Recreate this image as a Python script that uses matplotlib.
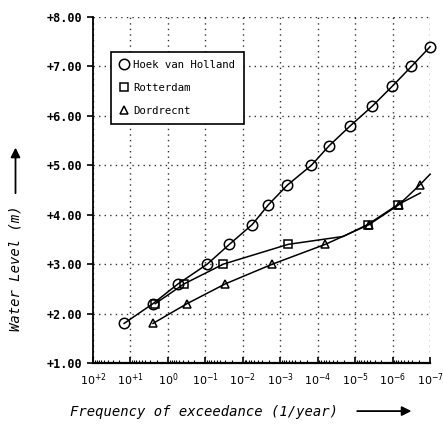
import matplotlib
matplotlib.use('Agg')
import matplotlib.pyplot as plt
from matplotlib.ticker import LogLocator, NullFormatter

plt.rcParams['font.family'] = ['DejaVu Sans Mono']

# dados (log10 da frequência, nível em m)
hoek_logf = [1.17, 0.40, -0.27, -1.05, -1.64, -2.25, -2.68, -3.19, -3.83, -4.31, -4.87, -5.46, -5.99, -6.50, -7.0]
hoek_nivel = [1.8, 2.2, 2.6, 3.0, 3.4, 3.8, 4.2, 4.6, 5.0, 5.4, 5.8, 6.2, 6.6, 7.0, 7.4]

rott_logf = [0.34, -0.43, -1.48, -3.21, -4.68, -5.33, -6.13, -6.74]
rott_nivel = [2.2, 2.6, 3.0, 3.4, 3.56, 3.8, 4.2, 4.44]
rott_marcas = [0, 1, 2, 3, 5, 6]

dord_logf = [0.40, -0.51, -1.53, -2.79, -4.20, -5.37, -6.16, -6.72, -7.0]
dord_nivel = [1.8, 2.2, 2.6, 3.0, 3.4, 3.8, 4.2, 4.6, 4.82]
dord_marcas = [0, 1, 2, 3, 4, 5, 6, 7]

expoentes = [2, 1, 0, -1, -2, -3, -4, -5, -6, -7]
rotulos_x = [r'$10^{+2}$', r'$10^{+1}$', r'$10^{0}$'] + [r'$10^{%d}$' % e for e in expoentes[3:]]
niveis_y = [1, 2, 3, 4, 5, 6, 7, 8]
rotulos_y = ['+%.2f' % v for v in niveis_y]

fig = plt.figure(figsize=(4.43, 4.26), dpi=100)
ax = fig.add_axes([0.21, 0.148, 0.761, 0.812])

ax.plot([10 ** v for v in hoek_logf], hoek_nivel, color='black', linewidth=1.1,
        marker='o', markersize=7.5, mfc='none', mec='black', mew=1.1,
        label='Hoek van Holland', clip_on=False)
ax.plot([10 ** v for v in rott_logf], rott_nivel, color='black', linewidth=1.1,
        marker='s', markersize=6, mfc='none', mec='black', mew=1.1,
        markevery=rott_marcas, label='Rotterdam', clip_on=False)
ax.plot([10 ** v for v in dord_logf], dord_nivel, color='black', linewidth=1.1,
        marker='^', markersize=6, mfc='none', mec='black', mew=1.1,
        markevery=dord_marcas, label='Dordrecnt', clip_on=False)

ax.set_xscale('log')
ax.set_xlim(1e2, 1e-7)
ax.set_ylim(1, 8)
ax.set_xticks([10.0 ** e for e in expoentes])
ax.set_xticklabels(rotulos_x, fontsize=8)
ax.xaxis.set_minor_locator(LogLocator(base=10, subs=range(2, 10), numticks=20))
ax.xaxis.set_minor_formatter(NullFormatter())
ax.set_yticks(niveis_y)
ax.set_yticklabels(rotulos_y, fontsize=8.5, fontweight='bold')

ax.tick_params(axis='x', which='major', direction='in', length=4, width=1.2, pad=6)
ax.tick_params(axis='x', which='minor', direction='in', length=2.5, width=0.8)
ax.tick_params(axis='y', direction='out', length=4, width=1.2)

ax.grid(True, which='major', linestyle=(0, (1, 3)), color='black', linewidth=1.0, alpha=0.8)
ax.spines['top'].set_visible(False)
ax.spines['right'].set_visible(False)
ax.spines['left'].set_linewidth(1.3)
ax.spines['bottom'].set_linewidth(1.6)

leg = ax.legend(loc='upper left', bbox_to_anchor=(0.053, 0.90), handlelength=0.8,
                handletextpad=0.5, fontsize=7.7, frameon=True, fancybox=False,
                borderpad=0.8, labelspacing=1.2, borderaxespad=0)
for linha in leg.get_lines():
    linha.set_linestyle('none')
leg.get_frame().set_edgecolor('black')
leg.get_frame().set_linewidth(1.2)
leg.get_frame().set_alpha(1)

# rótulos dos eixos com setas
fig.text(0.46, 0.033, 'Frequency of exceedance (1/year)', style='italic',
         fontsize=10, ha='center', va='center')
fig.add_artist(matplotlib.patches.FancyArrowPatch((0.80, 0.035), (0.935, 0.035),
               transform=fig.transFigure, arrowstyle='-|>', mutation_scale=14,
               color='black', linewidth=1.3))
fig.text(0.035, 0.37, 'Water Level (m)', style='italic', rotation=90,
         fontsize=10, ha='center', va='center')
fig.add_artist(matplotlib.patches.FancyArrowPatch((0.035, 0.54), (0.035, 0.66),
               transform=fig.transFigure, arrowstyle='-|>', mutation_scale=14,
               color='black', linewidth=1.3))

plt.savefig('out.png', dpi=100)
